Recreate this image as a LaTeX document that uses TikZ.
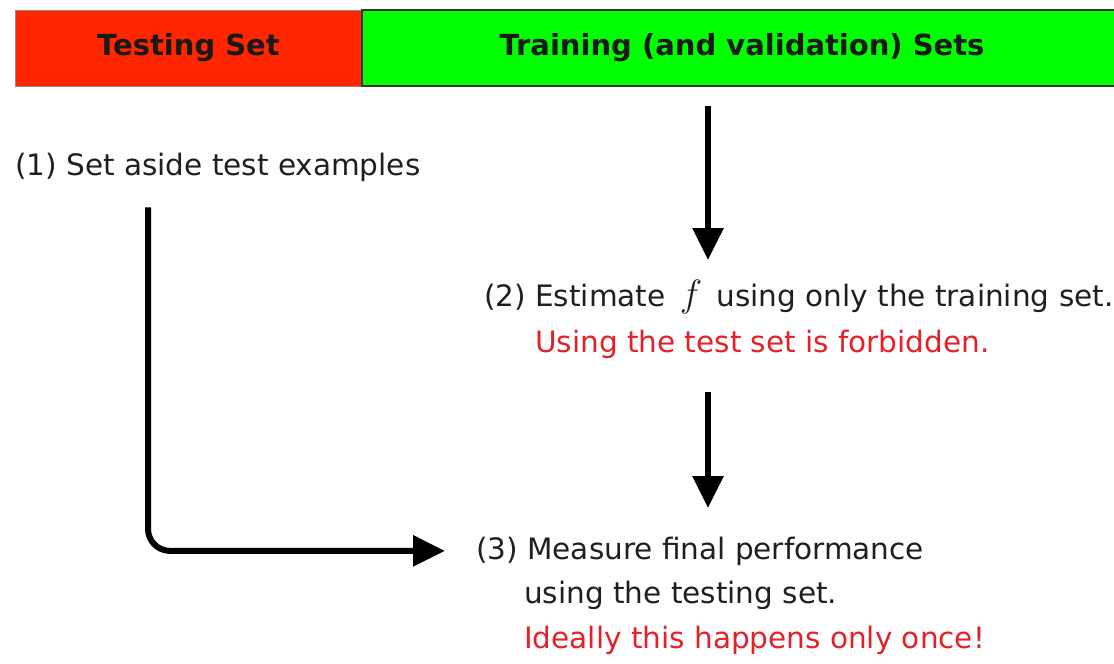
\RequirePackage{fix-cm}
\documentclass[tikz,border=0pt]{standalone}
\usepackage{fontspec}
\setmainfont{DejaVu Sans}
\usepackage{xcolor}
\usetikzlibrary{positioning,arrows.meta}

\definecolor{barred}{RGB}{255,38,0}
\definecolor{bargreen}{RGB}{0,255,0}
\definecolor{warnred}{RGB}{228,32,40}

\begin{document}
\begin{tikzpicture}[x=1pt, y=-1pt]
            \tikzstyle{bar} = [rectangle, minimum height=76pt, inner sep=0pt, font=\fontsize{29}{34}\selectfont\bfseries, text=black!90];
            \tikzstyle{steptext} = [anchor=base west, inner sep=0pt, font=\fontsize{29.5}{45}\selectfont, text=black!88];
            \tikzstyle{warn} = [steptext, text=warnred];
            \tikzstyle{flow} = [line width=6pt, -{Triangle[length=32pt, width=30pt]}];
            \useasboundingbox (0,0) rectangle (1114,664);

            \node [bar, fill=barred, draw=black!45, line width=1pt, minimum width=347pt] (test) at (188.5,48) {Testing Set};
            \node [bar, fill=bargreen, draw=black!80, line width=2pt, minimum width=758pt] (train) at (741,48) {};
            \node [font=\fontsize{29}{34}\selectfont\bfseries, text=black!90] at (742,48) {Training (and validation) Sets};

            \node [steptext] (step1) at (15,175) {(1) Set aside test examples};
            \node [steptext] (step2) at (484,306) {(2) Estimate \,{\fontsize{38}{40}\selectfont$f$}\, using only the training set.};
            \node [warn] (forbid) at (535,352) {Using the test set is forbidden.};
            \node [steptext] (step3) at (476,559) {(3) Measure final performance};
            \node [steptext] (using) at (524,603) {using the testing set.};
            \node [warn] (ideal) at (524,648) {Ideally this happens only once!};

            \coordinate (s2top) at (708,260);
            \coordinate (s3top) at (708,508);
            \draw [flow, shorten <=19pt] (train.south -| s2top) -- (s2top);
            \draw [flow, shorten <=34pt] (forbid.south -| s3top) -- (s3top);
            \draw [flow, rounded corners=22pt, shorten >=31pt] ([xshift=133pt, yshift=-26pt]step1.south west) |- (step3.west);

        \end{tikzpicture}
\end{document}
